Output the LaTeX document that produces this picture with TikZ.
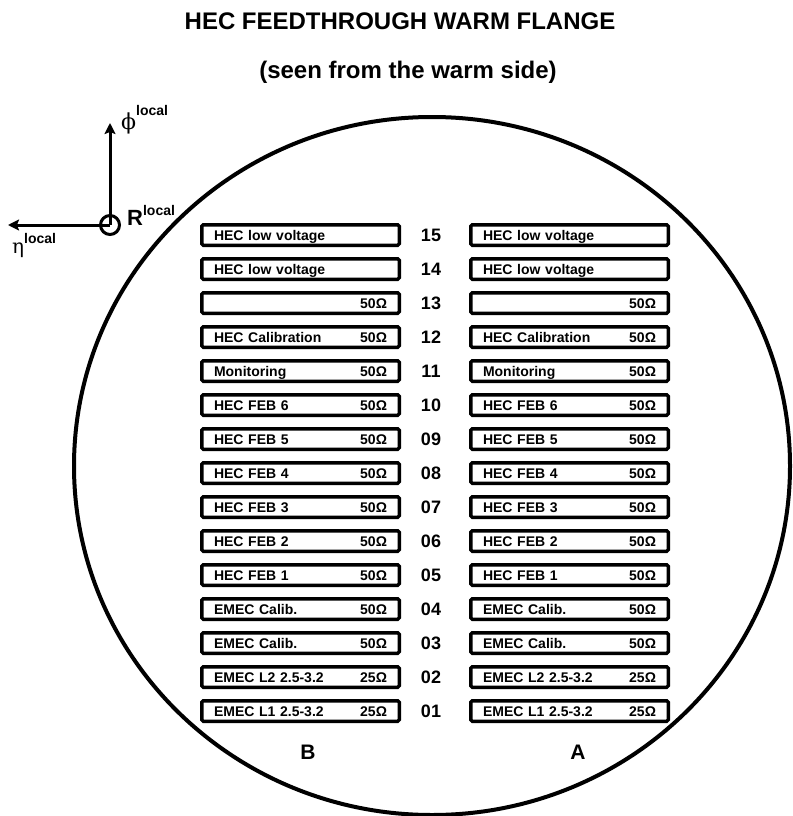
\documentclass[tikz,border=0pt]{standalone}
\usepackage{fontspec}
\setmainfont{Liberation Sans}
\newfontfamily\greekfont{DejaVu Serif}
\usetikzlibrary{arrows.meta}

\begin{document}
\begin{tikzpicture}[x=1pt, y=-1pt,
    slot/.style={draw, line width=3.5pt, rounded corners=1.5pt,
      minimum width=197.5pt, minimum height=20.5pt, inner sep=0pt,
      text width=173pt, align=left, text height=10pt, text depth=0pt,
      font=\fontsize{14}{14}\selectfont\bfseries},
    num/.style={inner sep=0pt, text height=13pt, text depth=0pt,
      font=\fontsize{18}{18}\selectfont\bfseries},
    side/.style={inner sep=0pt, font=\fontsize{21}{21}\selectfont\bfseries},
    head/.style={anchor=base, inner sep=0pt,
      font=\fontsize{24}{24}\selectfont\bfseries},
    axarr/.style={line width=3pt, -{Stealth[length=11pt, width=11pt, inset=2pt]}},
    axlbl/.style={anchor=base west, inner sep=0pt},
  ]
  \def\bx{300.5}  % column B
  \def\ax{569.5}  % column A
  \def\nx{431}    % feedthrough numbers
  \newcommand{\loc}[1]{\raisebox{#1}{\fontsize{14}{14}\selectfont\bfseries local}}

  \useasboundingbox (0,0) rectangle (792,816);

  % title
  \node[head] (title) at (400,30) {HEC FEEDTHROUGH WARM FLANGE};
  \node[head] (subtitle) at (408,78) {(seen from the warm side)};

  % local axes
  \node[circle, draw, line width=3pt, minimum size=19pt, inner sep=0pt] (orig) at (110,225) {};
  \coordinate (phitip) at (110,123);
  \coordinate (etatip) at (8,225);
  \draw[axarr] (orig.center) -- (phitip);
  \draw[axarr] (orig.center) -- (etatip);
  \node[axlbl] (philbl) at (121,129) {{\greekfont\fontsize{22}{22}\selectfont ϕ}\loc{14pt}};
  \node[axlbl] (etalbl) at (12,253) {{\greekfont\fontsize{20}{20}\selectfont η}\loc{10pt}};
  \node[axlbl] (rlbl) at (127,225) {{\fontsize{22}{22}\selectfont\bfseries R}\loc{10pt}};

  % flange
  \draw[line width=4pt] (432,466) ellipse [x radius=358pt, y radius=349pt];

  % side B
  \node[slot] (b15) at (\bx,235) {HEC low voltage};
  \node[slot] (b14) at (\bx,269) {HEC low voltage};
  \node[slot] (b13) at (\bx,303) {\hfill 50Ω};
  \node[slot] (b12) at (\bx,337) {HEC Calibration\hfill 50Ω};
  \node[slot] (b11) at (\bx,371) {Monitoring\hfill 50Ω};
  \node[slot] (b10) at (\bx,405) {HEC FEB 6\hfill 50Ω};
  \node[slot] (b09) at (\bx,439) {HEC FEB 5\hfill 50Ω};
  \node[slot] (b08) at (\bx,473) {HEC FEB 4\hfill 50Ω};
  \node[slot] (b07) at (\bx,507) {HEC FEB 3\hfill 50Ω};
  \node[slot] (b06) at (\bx,541) {HEC FEB 2\hfill 50Ω};
  \node[slot] (b05) at (\bx,575) {HEC FEB 1\hfill 50Ω};
  \node[slot] (b04) at (\bx,609) {EMEC Calib.\hfill 50Ω};
  \node[slot] (b03) at (\bx,643) {EMEC Calib.\hfill 50Ω};
  \node[slot] (b02) at (\bx,677) {EMEC L2 2.5-3.2\hfill 25Ω};
  \node[slot] (b01) at (\bx,711) {EMEC L1 2.5-3.2\hfill 25Ω};

  % feedthrough numbers
  \node[num] (n15) at (\nx,235) {15};
  \node[num] (n14) at (\nx,269) {14};
  \node[num] (n13) at (\nx,303) {13};
  \node[num] (n12) at (\nx,337) {12};
  \node[num] (n11) at (\nx,371) {11};
  \node[num] (n10) at (\nx,405) {10};
  \node[num] (n09) at (\nx,439) {09};
  \node[num] (n08) at (\nx,473) {08};
  \node[num] (n07) at (\nx,507) {07};
  \node[num] (n06) at (\nx,541) {06};
  \node[num] (n05) at (\nx,575) {05};
  \node[num] (n04) at (\nx,609) {04};
  \node[num] (n03) at (\nx,643) {03};
  \node[num] (n02) at (\nx,677) {02};
  \node[num] (n01) at (\nx,711) {01};

  % side A
  \node[slot] (a15) at (\ax,235) {HEC low voltage};
  \node[slot] (a14) at (\ax,269) {HEC low voltage};
  \node[slot] (a13) at (\ax,303) {\hfill 50Ω};
  \node[slot] (a12) at (\ax,337) {HEC Calibration\hfill 50Ω};
  \node[slot] (a11) at (\ax,371) {Monitoring\hfill 50Ω};
  \node[slot] (a10) at (\ax,405) {HEC FEB 6\hfill 50Ω};
  \node[slot] (a09) at (\ax,439) {HEC FEB 5\hfill 50Ω};
  \node[slot] (a08) at (\ax,473) {HEC FEB 4\hfill 50Ω};
  \node[slot] (a07) at (\ax,507) {HEC FEB 3\hfill 50Ω};
  \node[slot] (a06) at (\ax,541) {HEC FEB 2\hfill 50Ω};
  \node[slot] (a05) at (\ax,575) {HEC FEB 1\hfill 50Ω};
  \node[slot] (a04) at (\ax,609) {EMEC Calib.\hfill 50Ω};
  \node[slot] (a03) at (\ax,643) {EMEC Calib.\hfill 50Ω};
  \node[slot] (a02) at (\ax,677) {EMEC L2 2.5-3.2\hfill 25Ω};
  \node[slot] (a01) at (\ax,711) {EMEC L1 2.5-3.2\hfill 25Ω};

  \node[side] (sideB) at (308,752) {B};
  \node[side] (sideA) at (578,752) {A};
\end{tikzpicture}
\end{document}
